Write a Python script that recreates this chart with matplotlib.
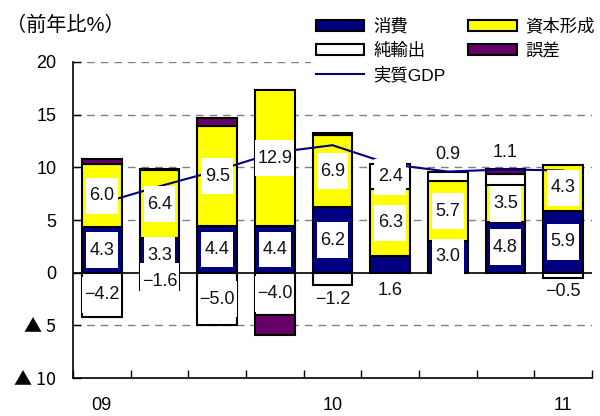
import numpy as np
import matplotlib.pyplot as plt
from matplotlib.patches import Patch, Rectangle
from matplotlib.lines import Line2D

plt.rcParams['font.family'] = ['Liberation Sans', 'Noto Sans CJK JP', 'DejaVu Sans']

# quarterly contributions (percentage points), 2009Q1 .. 2011Q1
quarters = ['09', '', '', '', '10', '', '', '', '11']
consumption = [4.3, 3.3, 4.4, 4.4, 6.2, 1.6, 3.0, 4.8, 5.9]
capital = [6.0, 6.4, 9.5, 12.9, 6.9, 6.3, 5.7, 3.5, 4.3]
net_exports = [-4.2, -1.6, -5.0, -4.0, -1.2, 2.4, 0.9, 1.1, -0.5]
errors = [0.5, 0.1, 0.8, -1.9, 0.2, 0.0, 0.0, 0.4, 0.0]
real_gdp = [6.6, 8.2, 9.7, 11.4, 12.1, 10.3, 9.6, 9.8, 9.7]

ytick_vals = [20, 15, 10, 5, 0, -5, -10]
ytick_labels = ['20', '15', '10', '5', '0', '▲ 5', '▲ 10']

NAVY = '#000080'
YELLOW = '#FFFF00'
PURPLE = '#660066'

fig = plt.figure(figsize=(6, 4.16), dpi=100)
ax = fig.add_axes([73 / 600, 38 / 416, 519 / 600, 316 / 416])

x = np.arange(len(quarters))
w = 0.69
fs = 13

labels = []  # (x, y, text, boxed)
for i in x:
    top = 0.0
    bottom = 0.0
    c = consumption[i]
    ax.bar(i, c, w, bottom=top, color=NAVY, edgecolor='black', lw=1.5, zorder=2)
    c_lo, top = top, top + c
    k = capital[i]
    ax.bar(i, k, w, bottom=top, color=YELLOW, edgecolor='black', lw=1.5, zorder=2)
    k_lo, top = top, top + k
    n = net_exports[i]
    if n >= 0:
        ax.bar(i, n, w, bottom=top, color='white', edgecolor='black', lw=1.5, zorder=2)
        n_lo, top = top, top + n
    else:
        ax.bar(i, n, w, bottom=bottom, color='white', edgecolor='black', lw=1.5, zorder=2)
        n_lo, bottom = bottom, bottom + n
    e = errors[i]
    if e > 0:
        ax.bar(i, e, w, bottom=top, color=PURPLE, edgecolor='black', lw=1.5, zorder=2)
        top += e
    elif e < 0:
        ax.bar(i, e, w, bottom=bottom, color=PURPLE, edgecolor='black', lw=1.5, zorder=2)
        bottom += e

    # data labels
    cy = c_lo + c / 2 if c >= 2 else -1.7
    labels.append((i, cy, f'{c:.1f}', c >= 2))
    labels.append((i, k_lo + k / 2, f'{k:.1f}', True))
    if n >= 0:
        ny = n_lo + n / 2 if n >= 2 else top + 1.6
    else:
        ny = n_lo + n / 2 if n <= -1.5 else n_lo + n - 1.3
    labels.append((i, ny, f'{n:.1f}'.replace('-', '−'), abs(n) >= 1.5))

ax.plot(x, real_gdp, color=NAVY, lw=1.5, zorder=3)

for lx, ly, txt, boxed in labels:
    if boxed:
        bw = (7 * len(txt) + 11) / 58
        bh = 3.4
        ax.add_patch(Rectangle((lx - bw / 2, ly - bh / 2), bw, bh, facecolor='white',
                               edgecolor='none', zorder=4))
    ax.text(lx, ly, txt, ha='center', va='center', fontsize=fs, color='#111111', zorder=5)

ax.axhline(0, color='black', lw=1.2, zorder=2.5)
for v in [20, 15, 10, 5, -5]:
    ax.axhline(v, color='#808080', lw=1, dashes=(5.5, 4.3), zorder=1)

ax.set_xlim(-0.5, len(quarters) - 0.5)
ax.set_ylim(-10, 20)
ax.set_yticks(ytick_vals)
ax.set_yticklabels(ytick_labels, fontsize=fs)
for t in ax.get_yticklabels():
    if '▲' in t.get_text():
        t.set_family(['Noto Sans CJK JP', 'DejaVu Sans'])
ax.set_xticks(x)
ax.set_xticklabels(quarters, fontsize=fs)
ax.set_xticks(np.arange(len(quarters) + 1) - 0.5, minor=True)
ax.tick_params(axis='x', which='major', length=0, pad=14)
ax.tick_params(axis='x', which='minor', direction='in', length=6, width=1)
ax.tick_params(axis='y', direction='in', length=6, width=1, pad=12)
for s in ['top', 'right']:
    ax.spines[s].set_visible(False)
for s in ['left', 'bottom']:
    ax.spines[s].set_linewidth(1.2)

fig.text(6 / 600, 1 - 25 / 416, '（前年比%）', fontsize=14.5, va='center', ha='left')

handles = [
    Patch(facecolor=NAVY, edgecolor='black', lw=1.5, label='消費'),
    Patch(facecolor='white', edgecolor='black', lw=1.5, label='純輸出'),
    Line2D([], [], color=NAVY, lw=1.5, label='実質GDP'),
    Patch(facecolor=YELLOW, edgecolor='black', lw=1.5, label='資本形成'),
    Patch(facecolor=PURPLE, edgecolor='black', lw=1.5, label='誤差'),
]
leg = fig.legend(handles=handles, ncol=2, loc='upper left',
                 bbox_to_anchor=(302 / 600, 1 - 4 / 416), frameon=True,
                 fontsize=12.5, handlelength=2.8, handleheight=0.6,
                 handletextpad=0.5, columnspacing=1.3, labelspacing=0.45,
                 borderpad=0.3)
leg.get_frame().set_edgecolor('none')
leg.get_frame().set_facecolor('white')
leg.get_frame().set_alpha(1)

fig.savefig('out.png', dpi=100)
